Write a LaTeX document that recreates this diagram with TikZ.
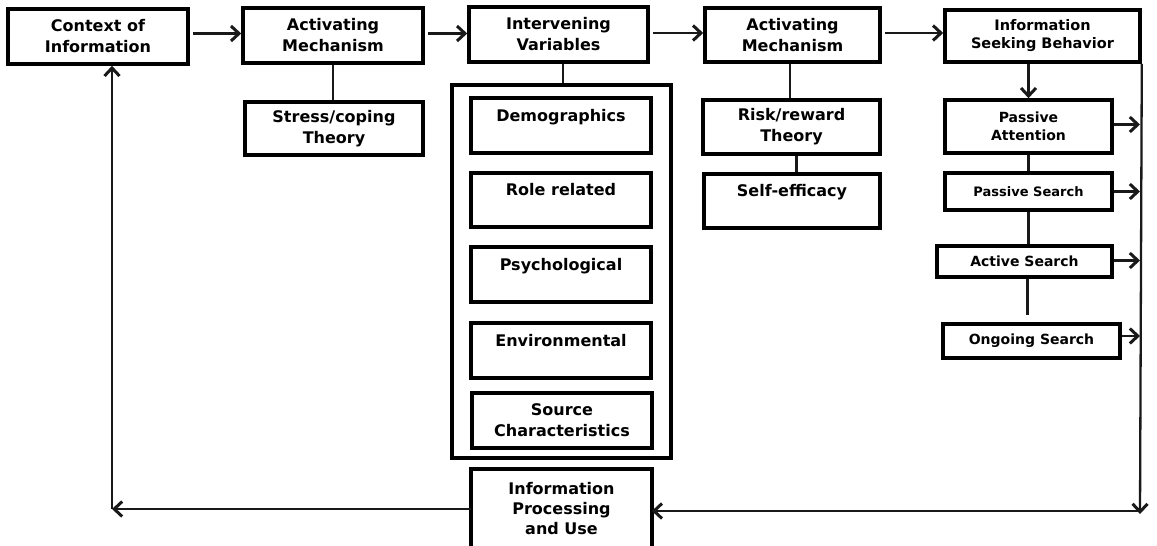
\documentclass[tikz,border=0pt]{standalone}
\usepackage{fontspec}
\setmainfont{DejaVu Sans}
\usetikzlibrary{arrows.meta}
\begin{document}
\begin{tikzpicture}[x=1pt,y=-1pt,
  box/.style={draw, line width=3.6pt, inner sep=0pt, align=center,
    font=\fontsize{16}{21}\selectfont\bfseries},
  small/.style={font=\fontsize{14.5}{18}\selectfont\bfseries},
  conn/.style={line width=2.3pt, draw=black!90},
  arr/.style={conn, -{Straight Barb[length=8pt,width=15pt,line width=3pt]}},
]
\useasboundingbox (0,0) rectangle (1157,546);
\clip (0,0) rectangle (1157,546);

% top row
\node[box, minimum width=180, minimum height=55] (ctx) at (98,36.5) {Context of\\Information};
\node[box, minimum width=180, minimum height=55] (am1) at (333,35.5) {Activating\\Mechanism};
\node[box, minimum width=179, minimum height=55] (iv) at (558.5,34.5) {Intervening\\Variables};
\node[box, minimum width=175, minimum height=54] (am2) at (792.5,35) {Activating\\Mechanism};
\node[box, small, minimum width=195, minimum height=52] (isb) at (1042.5,36) {Information\\Seeking Behavior};

% second level
\node[box, minimum width=178, minimum height=53] (stress) at (334,128.5) {Stress/coping\\Theory};
\node[box, line width=3.8pt, minimum width=219, minimum height=373] (outer) at (561.5,271.5) {};
\node[box, minimum width=180, minimum height=55] (demo) at (561,125.5) {Demographics\\\mbox{}};
\node[box, minimum width=180, minimum height=54] (role) at (561,200) {Role related\\\mbox{}};
\node[box, minimum width=180, minimum height=55] (psy) at (561,274.5) {Psychological\\\mbox{}};
\node[box, minimum width=180, minimum height=55] (env) at (561,350.5) {Environmental\\\mbox{}};
\node[box, minimum width=180, minimum height=55] (src) at (562,420.5) {Source\\Characteristics};
\node[box, minimum width=177, minimum height=54] (risk) at (791.5,127) {Risk/reward\\Theory};
\node[box, minimum width=176, minimum height=54] (self) at (792,201) {Self-efficacy\\\mbox{}};

% information seeking sub-boxes
\node[box, font=\fontsize{14}{18}\selectfont\bfseries, minimum width=167, minimum height=53] (pa) at (1028.5,126.5) {Passive\\Attention};
\node[box, font=\fontsize{13}{16}\selectfont\bfseries, minimum width=167, minimum height=37] (ps) at (1028.5,191.5) {Passive Search};
\node[box, font=\fontsize{14}{18}\selectfont\bfseries, minimum width=175, minimum height=31] (as) at (1024.5,261.5) {Active Search};
\node[box, font=\fontsize{14}{18}\selectfont\bfseries, minimum width=177, minimum height=34] (os) at (1031.5,341) {Ongoing Search};

% bottom box (cut by the lower edge)
\node[box, draw=none, font=\fontsize{16}{20}\selectfont\bfseries, minimum width=177, minimum height=76] (ipu) at (561.5,509) {Information\\Processing\\and Use};
\draw[line width=3.6pt] ([yshift=-20pt]ipu.south west) -- (ipu.north west) -- (ipu.north east) -- ([yshift=-20pt]ipu.south east);

% top arrows
\draw[arr, shorten <=3pt] ([yshift=3pt]ctx.east) -- ([yshift=3pt]ctx.east -| am1.west);
\draw[arr, shorten <=3pt] ([yshift=2pt]am1.east) -- ([yshift=2pt]am1.east -| iv.west);
\draw[arr, shorten <=3pt] ([yshift=1.5pt]iv.east) -- ([yshift=1.5pt]iv.east -| am2.west);
\draw[arr, shorten <=3pt] ([yshift=2pt]am2.east) -- ([yshift=2pt]am2.east -| isb.west);

% vertical links
\draw[conn] (am1.south) -- (am1.south |- stress.north);
\draw[conn] ([xshift=4.5pt]iv.south) -- ([xshift=4.5pt]iv.south |- outer.north);
\draw[conn] ([xshift=-2.5pt]am2.south) -- ([xshift=-2.5pt]am2.south |- risk.north);
\draw[conn] ([xshift=5pt]risk.south) -- ([xshift=5pt]risk.south |- self.north);
\draw[arr] (isb.south -| pa.north) -- (pa.north);
\draw[conn] (pa.south) -- (pa.south |- ps.north);
\draw[conn] (ps.south) -- (ps.south |- as.north);
\draw[conn, shorten >=7pt] ([xshift=3pt]as.south) -- ([xshift=3pt]as.south |- os.north);

% right return line
\coordinate (rc) at (1140,511);
\draw[arr] (isb.south east) -- ([yshift=-3pt]rc);
\draw[arr] (rc) -- (rc -| ipu.east);
\draw[arr] ([yshift=2pt]pa.east) -- ([yshift=2pt]pa.east -| rc);
\draw[arr] (ps.east) -- (ps.east -| rc);
\draw[arr] ([yshift=1pt]as.east) -- ([yshift=1pt]as.east -| rc);
\draw[arr] ([yshift=5pt]os.east) -- ([yshift=5pt]os.east -| rc);

% left return line
\coordinate (lc) at (112,509);
\draw[arr] (ipu.west) -- (lc);
\draw[arr] (lc) -- (lc |- ctx.south);
\end{tikzpicture}
\end{document}
